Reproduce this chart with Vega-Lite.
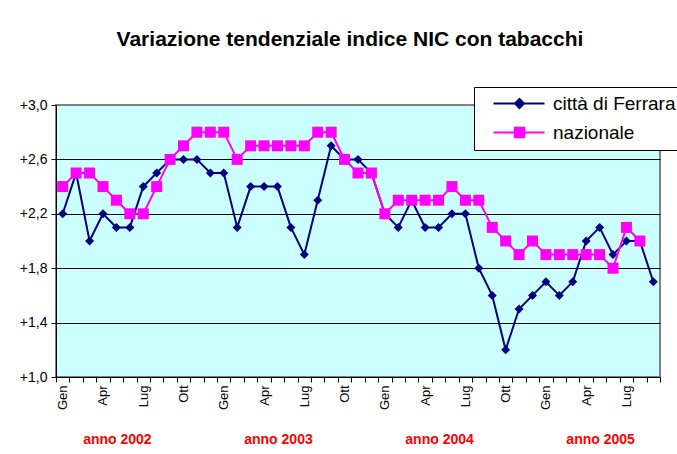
{
  "$schema": "https://vega.github.io/schema/vega-lite/v6.json",
  "width": 604,
  "height": 272,
  "autosize": "none",
  "padding": {"left": 56, "top": 105, "right": 17, "bottom": 77},
  "background": "white",
  "title": {"text": "Variazione tendenziale indice NIC con tabacchi", "fontSize": 21, "fontWeight": "bold", "font": "Liberation Sans", "color": "black", "anchor": "middle", "offset": 37, "dx": -8},
  "config": {"font": "Liberation Sans", "view": {"stroke": "#808080", "strokeWidth": 2, "fill": "#CCFFFF"}},
  "datasets": {
    "valori": [
      {"mese": "2002-01", "serie": "città di Ferrara", "valore": 2.2},
      {"mese": "2002-02", "serie": "città di Ferrara", "valore": 2.5},
      {"mese": "2002-03", "serie": "città di Ferrara", "valore": 2.0},
      {"mese": "2002-04", "serie": "città di Ferrara", "valore": 2.2},
      {"mese": "2002-05", "serie": "città di Ferrara", "valore": 2.1},
      {"mese": "2002-06", "serie": "città di Ferrara", "valore": 2.1},
      {"mese": "2002-07", "serie": "città di Ferrara", "valore": 2.4},
      {"mese": "2002-08", "serie": "città di Ferrara", "valore": 2.5},
      {"mese": "2002-09", "serie": "città di Ferrara", "valore": 2.6},
      {"mese": "2002-10", "serie": "città di Ferrara", "valore": 2.6},
      {"mese": "2002-11", "serie": "città di Ferrara", "valore": 2.6},
      {"mese": "2002-12", "serie": "città di Ferrara", "valore": 2.5},
      {"mese": "2003-01", "serie": "città di Ferrara", "valore": 2.5},
      {"mese": "2003-02", "serie": "città di Ferrara", "valore": 2.1},
      {"mese": "2003-03", "serie": "città di Ferrara", "valore": 2.4},
      {"mese": "2003-04", "serie": "città di Ferrara", "valore": 2.4},
      {"mese": "2003-05", "serie": "città di Ferrara", "valore": 2.4},
      {"mese": "2003-06", "serie": "città di Ferrara", "valore": 2.1},
      {"mese": "2003-07", "serie": "città di Ferrara", "valore": 1.9},
      {"mese": "2003-08", "serie": "città di Ferrara", "valore": 2.3},
      {"mese": "2003-09", "serie": "città di Ferrara", "valore": 2.7},
      {"mese": "2003-10", "serie": "città di Ferrara", "valore": 2.6},
      {"mese": "2003-11", "serie": "città di Ferrara", "valore": 2.6},
      {"mese": "2003-12", "serie": "città di Ferrara", "valore": 2.5},
      {"mese": "2004-01", "serie": "città di Ferrara", "valore": 2.2},
      {"mese": "2004-02", "serie": "città di Ferrara", "valore": 2.1},
      {"mese": "2004-03", "serie": "città di Ferrara", "valore": 2.3},
      {"mese": "2004-04", "serie": "città di Ferrara", "valore": 2.1},
      {"mese": "2004-05", "serie": "città di Ferrara", "valore": 2.1},
      {"mese": "2004-06", "serie": "città di Ferrara", "valore": 2.2},
      {"mese": "2004-07", "serie": "città di Ferrara", "valore": 2.2},
      {"mese": "2004-08", "serie": "città di Ferrara", "valore": 1.8},
      {"mese": "2004-09", "serie": "città di Ferrara", "valore": 1.6},
      {"mese": "2004-10", "serie": "città di Ferrara", "valore": 1.2},
      {"mese": "2004-11", "serie": "città di Ferrara", "valore": 1.5},
      {"mese": "2004-12", "serie": "città di Ferrara", "valore": 1.6},
      {"mese": "2005-01", "serie": "città di Ferrara", "valore": 1.7},
      {"mese": "2005-02", "serie": "città di Ferrara", "valore": 1.6},
      {"mese": "2005-03", "serie": "città di Ferrara", "valore": 1.7},
      {"mese": "2005-04", "serie": "città di Ferrara", "valore": 2.0},
      {"mese": "2005-05", "serie": "città di Ferrara", "valore": 2.1},
      {"mese": "2005-06", "serie": "città di Ferrara", "valore": 1.9},
      {"mese": "2005-07", "serie": "città di Ferrara", "valore": 2.0},
      {"mese": "2005-08", "serie": "città di Ferrara", "valore": 2.0},
      {"mese": "2005-09", "serie": "città di Ferrara", "valore": 1.7},
      {"mese": "2002-01", "serie": "nazionale", "valore": 2.4},
      {"mese": "2002-02", "serie": "nazionale", "valore": 2.5},
      {"mese": "2002-03", "serie": "nazionale", "valore": 2.5},
      {"mese": "2002-04", "serie": "nazionale", "valore": 2.4},
      {"mese": "2002-05", "serie": "nazionale", "valore": 2.3},
      {"mese": "2002-06", "serie": "nazionale", "valore": 2.2},
      {"mese": "2002-07", "serie": "nazionale", "valore": 2.2},
      {"mese": "2002-08", "serie": "nazionale", "valore": 2.4},
      {"mese": "2002-09", "serie": "nazionale", "valore": 2.6},
      {"mese": "2002-10", "serie": "nazionale", "valore": 2.7},
      {"mese": "2002-11", "serie": "nazionale", "valore": 2.8},
      {"mese": "2002-12", "serie": "nazionale", "valore": 2.8},
      {"mese": "2003-01", "serie": "nazionale", "valore": 2.8},
      {"mese": "2003-02", "serie": "nazionale", "valore": 2.6},
      {"mese": "2003-03", "serie": "nazionale", "valore": 2.7},
      {"mese": "2003-04", "serie": "nazionale", "valore": 2.7},
      {"mese": "2003-05", "serie": "nazionale", "valore": 2.7},
      {"mese": "2003-06", "serie": "nazionale", "valore": 2.7},
      {"mese": "2003-07", "serie": "nazionale", "valore": 2.7},
      {"mese": "2003-08", "serie": "nazionale", "valore": 2.8},
      {"mese": "2003-09", "serie": "nazionale", "valore": 2.8},
      {"mese": "2003-10", "serie": "nazionale", "valore": 2.6},
      {"mese": "2003-11", "serie": "nazionale", "valore": 2.5},
      {"mese": "2003-12", "serie": "nazionale", "valore": 2.5},
      {"mese": "2004-01", "serie": "nazionale", "valore": 2.2},
      {"mese": "2004-02", "serie": "nazionale", "valore": 2.3},
      {"mese": "2004-03", "serie": "nazionale", "valore": 2.3},
      {"mese": "2004-04", "serie": "nazionale", "valore": 2.3},
      {"mese": "2004-05", "serie": "nazionale", "valore": 2.3},
      {"mese": "2004-06", "serie": "nazionale", "valore": 2.4},
      {"mese": "2004-07", "serie": "nazionale", "valore": 2.3},
      {"mese": "2004-08", "serie": "nazionale", "valore": 2.3},
      {"mese": "2004-09", "serie": "nazionale", "valore": 2.1},
      {"mese": "2004-10", "serie": "nazionale", "valore": 2.0},
      {"mese": "2004-11", "serie": "nazionale", "valore": 1.9},
      {"mese": "2004-12", "serie": "nazionale", "valore": 2.0},
      {"mese": "2005-01", "serie": "nazionale", "valore": 1.9},
      {"mese": "2005-02", "serie": "nazionale", "valore": 1.9},
      {"mese": "2005-03", "serie": "nazionale", "valore": 1.9},
      {"mese": "2005-04", "serie": "nazionale", "valore": 1.9},
      {"mese": "2005-05", "serie": "nazionale", "valore": 1.9},
      {"mese": "2005-06", "serie": "nazionale", "valore": 1.8},
      {"mese": "2005-07", "serie": "nazionale", "valore": 2.1},
      {"mese": "2005-08", "serie": "nazionale", "valore": 2.0}
    ],
    "anni": [
      {"anno": "anno 2002", "mese": "2002-05"},
      {"anno": "anno 2003", "mese": "2003-05"},
      {"anno": "anno 2004", "mese": "2004-05"},
      {"anno": "anno 2005", "mese": "2005-05"}
    ]
  },
  "layer": [
    {
      "data": {"name": "valori"},
      "transform": [{"filter": "datum.serie === 'città di Ferrara'"}],
      "mark": {"type": "line", "strokeWidth": 2, "point": {"shape": "diamond", "size": 81, "filled": true}},
      "encoding": {
        "x": {
          "field": "mese", "type": "ordinal",
          "scale": {"type": "band", "paddingInner": 0, "paddingOuter": 0},
          "axis": {
            "title": null,
            "labelExpr": "datum.value ? ['Gen','','','Apr','','','Lug','','','Ott','',''][toNumber(slice(datum.value + '',5))-1] : ''",
            "labelAngle": 270, "labelFontSize": 13, "labelColor": "black", "labelPadding": 3,
            "labelOverlap": false,
            "tickBand": "extent", "tickSize": 5, "tickColor": "black",
            "domainColor": "black", "grid": false
          }
        },
        "y": {
          "field": "valore", "type": "quantitative",
          "scale": {"domain": [1, 3], "nice": false, "zero": false},
          "axis": {
            "title": null,
            "values": [1, 1.4, 1.8, 2.2, 2.6, 3],
            "labelExpr": "'+' + replace(format(datum.value, '.1f'), '.', ',')",
            "labelFontSize": 14, "labelColor": "black", "labelPadding": 4,
            "tickSize": 5, "tickColor": "black", "domainColor": "black",
            "grid": true,
            "gridColor": {"condition": {"test": "datum.value >= 2.9", "value": "#808080"}, "value": "black"}
          }
        },
        "color": {
          "field": "serie", "type": "nominal",
          "scale": {"domain": ["città di Ferrara", "nazionale"], "range": ["#000080", "#FF00FF"]},
          "legend": {
            "title": null,
            "orient": "none",
            "legendX": 418,
            "legendY": -18,
            "direction": "vertical",
            "fillColor": "white",
            "strokeColor": "black",
            "padding": 7,
            "rowPadding": 9,
            "labelFontSize": 19,
            "labelColor": "black",
            "labelLimit": 300,
            "labelOffset": 53,
            "symbolSize": 100,
            "encode": {
              "symbols": {
                "update": {
                  "shape": {"signal": "datum.value === 'nazionale' ? 'M0.6,0H10.8M4.85,-0.95H6.75V0.95H4.85Z' : 'M0.6,0H10.8M5.8,-0.9L6.7,0L5.8,0.9L4.9,0Z'"},
                  "fill": {"signal": "datum.value === 'nazionale' ? '#FF00FF' : '#000080'"},
                  "stroke": {"signal": "datum.value === 'nazionale' ? '#FF00FF' : '#000080'"},
                  "strokeWidth": {"value": 2}
                }
              }
            }
          }
        }
      }
    },
    {
      "data": {"name": "valori"},
      "transform": [{"filter": "datum.serie === 'nazionale'"}],
      "mark": {"type": "line", "strokeWidth": 2, "point": {"shape": "square", "size": 121, "filled": true}},
      "encoding": {
        "x": {"field": "mese", "type": "ordinal"},
        "y": {"field": "valore", "type": "quantitative"},
        "color": {"field": "serie", "type": "nominal"}
      }
    },
    {
      "data": {"name": "anni"},
      "mark": {"type": "text", "color": "#FF0000", "fontWeight": "bold", "fontSize": 14, "dy": 63, "dx": 1, "baseline": "middle", "align": "center"},
      "encoding": {
        "x": {"field": "mese", "type": "ordinal"},
        "y": {"datum": 1},
        "text": {"field": "anno"}
      }
    }
  ]
}
